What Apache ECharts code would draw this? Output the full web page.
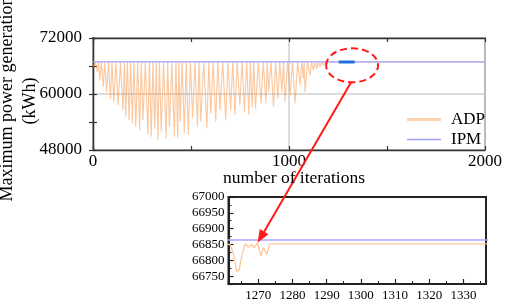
<!DOCTYPE html>
<html>
<head>
<meta charset="utf-8">
<script src="https://cdn.jsdelivr.net/npm/echarts@6/dist/echarts.min.js"></script>
<style>
html,body{margin:0;padding:0;background:#fff;}
#c{width:505px;height:302px;}
</style>
</head>
<body>
<div id="c"></div>
<script>
// ---- data ----
const adpIter = [0,5,13,22,28,35,43,52,60,69,79,89,97,106,117,128,140,153,160,167,175,184,192,201,209,218,228,238,246,255,267,280,288,297,306,315,323,331,339,348,360,373,381,390,402,415,423,432,438,445,455,466,476,486,497,508,520,533,541,550,565,581,591,601,613,626,637,648,662,677,689,702,713,724,736,749,761,773,784,795,803,812,820,829,843,857,869,882,889,896,908,921,932,943,953,964,972,980,993,1006,1018,1031,1044,1057,1065,1073,1077,1082,1094,1107,1115,1124,1132,1141,1149,1158,1166,1175,1183,1191,1198,1205,1211,1218,1224,1230,1236,1242,1247,1252,1257,1261.7,1262.7,1263.7,1264.4,1265.2,1266.1,1267.1,1268.1,1268.8,1269.8,1270.8,1271.5,1272.5,1273.4,2000];
const adpValue = [66500,65800,66850,64730,66850,62960,66850,61530,66850,60460,66850,59050,66850,58320,66850,57620,66850,56550,66850,55120,66850,54410,66850,53700,66850,52980,66850,52280,66850,54410,66850,51210,66850,50850,66850,52500,66850,50140,66850,51920,66850,50500,66850,52980,66850,50850,66850,50500,66850,54050,66850,51570,66850,51200,66850,54850,66850,53000,66850,54050,66850,52640,66850,55850,66850,54050,66850,56550,66850,54400,66850,56550,66850,55500,66850,57600,66850,56200,66850,55500,66850,57000,66850,56900,66850,58000,66850,58000,66850,60450,66850,57250,66850,59050,66850,60450,66850,58300,66850,59750,66850,58000,66850,61900,66850,63300,66850,60450,66850,64000,66850,65100,66850,65460,66850,65800,66850,66170,66850,66300,66850,66500,66850,66600,66850,66700,66850,66760,66850,66800,66850,66850,66824,66765,66770,66814,66852,66842,66850,66840,66855,66814,66840,66819,66852,66852];
const ipmIter = [0, 2000];
const ipmValue = [66864, 66864];
const zoomSpanIter = [1254, 1335];     // highlighted (zoomed) stretch of IPM
const zoomSpanValue = [66864, 66864];
const legendNames = ['ADP', 'IPM'];
const mainYTicks = [48000, 60000, 72000];
const mainXTicks = [0, 1000, 2000];
const insetYRange = [66725, 67000];
const insetXRange = [1261.3, 1336.6];
const arrowTarget = [1269.8, 66855];
const circleCenter = [1322, 66150];

const pairs = (xs, ys) => xs.map((x, i) => [x, ys[i]]);
const FONT = 'Liberation Serif';

const chart = echarts.init(document.getElementById('c'), null, {renderer: 'canvas'});

const mainAxisCommon = {
  axisLine: {show: true, lineStyle: {color: '#333', width: 1.3}},
  axisTick: {show: true, inside: true, length: 4, lineStyle: {color: '#333', width: 1.2}},
  minorTick: {show: true, splitNumber: 2, length: 4, lineStyle: {color: '#333', width: 1.2}},
};

const option = {
  animation: false,
  backgroundColor: '#fff',
  grid: [
    {left: 93, top: 38, width: 395, height: 112, show: true, borderColor: '#333', borderWidth: 1.3, backgroundColor: 'transparent'},
    {left: 228.5, top: 197, width: 257.5, height: 87.5, show: true, borderColor: '#222', borderWidth: 2, backgroundColor: 'transparent'}
  ],
  xAxis: [
    Object.assign({gridIndex: 0, type: 'value', position: 'bottom', min: mainXTicks[0], max: mainXTicks[2], interval: 1000,
      axisLabel: {margin: 3, color: '#000', fontFamily: FONT, fontSize: 17, formatter: v => String(v)},
      splitLine: {show: true, lineStyle: {color: '#d0d0d0', width: 1.5}}}, mainAxisCommon),
    Object.assign({gridIndex: 0, type: 'value', position: 'top', min: mainXTicks[0], max: mainXTicks[2], interval: 1000,
      axisLabel: {show: false}, splitLine: {show: false}}, mainAxisCommon),
    {gridIndex: 1, type: 'value', position: 'bottom', min: insetXRange[0], max: insetXRange[1], splitNumber: 7,
      axisLine: {show: true, lineStyle: {color: '#222', width: 2}},
      axisTick: {show: true, inside: true, length: 5, lineStyle: {color: '#222', width: 1.2}},
      minorTick: {show: true, splitNumber: 2, length: 3, lineStyle: {color: '#222', width: 1}},
      axisLabel: {margin: 5, color: '#000', fontFamily: FONT, fontSize: 13, showMinLabel: false, showMaxLabel: false,
        formatter: v => (Math.abs(v % 10) < 1e-6 ? String(Math.round(v)) : '')},
      splitLine: {show: false}}
  ],
  yAxis: [
    Object.assign({gridIndex: 0, type: 'value', position: 'left', min: mainYTicks[0], max: mainYTicks[2], interval: 12000,
      axisLabel: {margin: 11, color: '#000', fontFamily: FONT, fontSize: 17, formatter: v => String(v)},
      splitLine: {show: true, lineStyle: {color: '#d0d0d0', width: 1.5}}}, mainAxisCommon),
    Object.assign({gridIndex: 0, type: 'value', position: 'right', min: mainYTicks[0], max: mainYTicks[2], interval: 12000,
      axisLabel: {show: false}, splitLine: {show: false}}, mainAxisCommon),
    {gridIndex: 1, type: 'value', position: 'left', min: insetYRange[0], max: insetYRange[1], splitNumber: 5,
      axisLine: {show: true, lineStyle: {color: '#222', width: 2}},
      axisTick: {show: true, inside: true, length: 5, lineStyle: {color: '#222', width: 1.2}},
      minorTick: {show: true, splitNumber: 2, length: 3, lineStyle: {color: '#222', width: 1}},
      axisLabel: {margin: 4, color: '#000', fontFamily: FONT, fontSize: 13, showMinLabel: false, showMaxLabel: true,
        formatter: v => (Math.abs(v % 50) < 1e-6 ? String(Math.round(v)) : '')},
      splitLine: {show: false}}
  ],
  legend: {
    data: [
      {name: legendNames[0], icon: 'path://M0,0 H34 V3 H0 Z', itemStyle: {color: '#fbd2ae'}},
      {name: legendNames[1], icon: 'path://M0,0 H34 V1.3 H0 Z', itemStyle: {color: '#9f9fff'}}
    ],
    symbolKeepAspect: true,
    orient: 'vertical', left: 402, top: 106, itemWidth: 34, itemHeight: 14, itemGap: 3,
    textStyle: {fontFamily: FONT, fontSize: 17, color: '#000', padding: [0, 0, 0, 5]},
    selectedMode: false
  },
  series: [
    {name: 'ADP', type: 'line', xAxisIndex: 0, yAxisIndex: 0, data: pairs(adpIter, adpValue), symbol: 'none',
      lineStyle: {color: '#f7923f', width: 1.1, opacity: 0.5}, itemStyle: {color: '#f7923f'}, clip: true, z: 2},
    {name: 'IPM', type: 'line', xAxisIndex: 0, yAxisIndex: 0, data: pairs(ipmIter, ipmValue), symbol: 'none',
      lineStyle: {color: '#9f9fff', width: 1.2}, itemStyle: {color: '#9f9fff'}, z: 3},
    {name: 'zoom', type: 'line', xAxisIndex: 0, yAxisIndex: 0, data: pairs(zoomSpanIter, zoomSpanValue), symbol: 'none',
      lineStyle: {color: '#1f6fe0', width: 3}, z: 4},
    {name: 'ADP', type: 'line', xAxisIndex: 2, yAxisIndex: 2, data: pairs(adpIter, adpValue), symbol: 'none',
      lineStyle: {color: '#fcc898', width: 1.3}, clip: true, z: 2},
    {name: 'IPM', type: 'line', xAxisIndex: 2, yAxisIndex: 2, data: pairs(ipmIter, ipmValue), symbol: 'none',
      lineStyle: {color: '#a6a6ff', width: 1.6}, clip: true, z: 3}
  ]
};
chart.setOption(option);

// annotations placed from the axes' own scales
const c0 = chart.convertToPixel({xAxisIndex: 0, yAxisIndex: 0}, circleCenter);
const tip = chart.convertToPixel({xAxisIndex: 2, yAxisIndex: 2}, arrowTarget);
const rx = 26, ry = 17;
const start = [c0[0] - 1, c0[1] + ry];
const dx = tip[0] - start[0], dy = tip[1] - start[1];
const len = Math.sqrt(dx * dx + dy * dy);
const ux = dx / len, uy = dy / len;
const headLen = 13, headHalf = 5;
const base = [tip[0] - ux * headLen, tip[1] - uy * headLen];
const px = -uy, py = ux;

chart.setOption({
  graphic: [
    {type: 'ellipse', shape: {cx: c0[0], cy: c0[1], rx: rx, ry: ry}, z: 100,
      style: {fill: 'none', stroke: '#ff1a1a', lineWidth: 2, lineDash: [7, 4]}},
    {type: 'line', shape: {x1: start[0], y1: start[1], x2: base[0], y2: base[1]}, z: 100,
      style: {stroke: '#ff1a1a', lineWidth: 2}},
    {type: 'polygon', shape: {points: [[tip[0], tip[1]], [base[0] + px * headHalf, base[1] + py * headHalf], [base[0] - px * headHalf, base[1] - py * headHalf]]}, z: 100,
      style: {fill: '#ff1a1a'}},
    {type: 'text', x: 7, y: 99, rotation: Math.PI / 2, z: 100,
      style: {text: 'Maximum power generation', fontFamily: FONT, fontSize: 18, fill: '#000', align: 'center', verticalAlign: 'middle'}},
    {type: 'text', x: 30, y: 101, rotation: Math.PI / 2, z: 100,
      style: {text: '(kWh)', fontFamily: FONT, fontSize: 18, fill: '#000', align: 'center', verticalAlign: 'middle'}},
    {type: 'text', x: 294, y: 178, z: 100,
      style: {text: 'number of iterations', fontFamily: FONT, fontSize: 17.5, fill: '#000', align: 'center', verticalAlign: 'middle'}}
  ]
});
</script>
</body>
</html>
